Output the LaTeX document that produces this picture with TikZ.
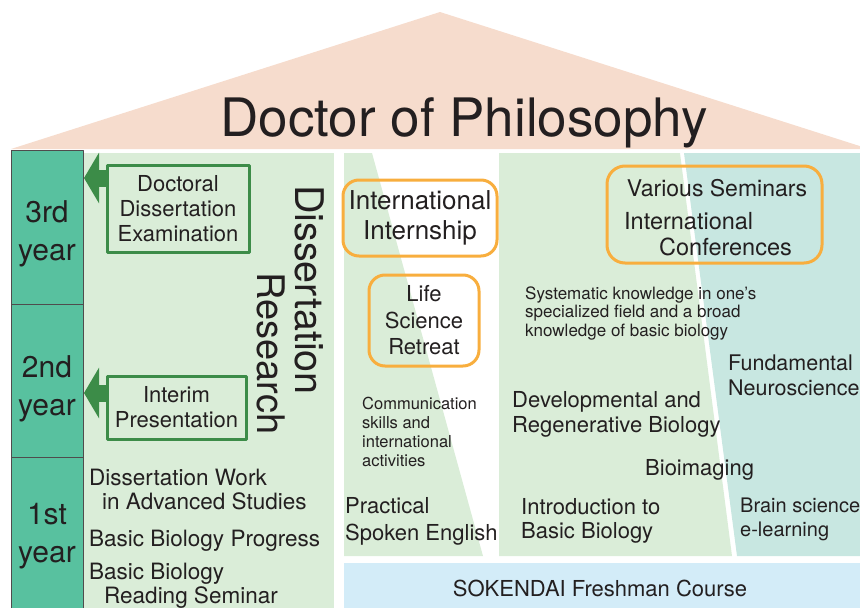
\documentclass[tikz,border=0pt]{standalone}
\usepackage{fontspec}
\setmainfont{TeX Gyre Heros}
\usetikzlibrary{arrows.meta}
\definecolor{roof}{HTML}{F6DCCD}
\definecolor{colteal}{HTML}{58C19F}
\definecolor{lgreen}{HTML}{DAEDD8}
\definecolor{lteal}{HTML}{C8E7E1}
\definecolor{lblue}{HTML}{D3ECF8}
\definecolor{dgreen}{HTML}{3C8C48}
\definecolor{orng}{HTML}{F8AE3E}
\definecolor{ink}{HTML}{231F20}

\begin{document}
\begin{tikzpicture}[x=1pt,y=-1pt,line join=round,
  txt/.style={inner sep=0pt,text=ink,align=left,font=\fontsize{22}{25}\selectfont},
  small/.style={txt,font=\fontsize{17}{18.5}\selectfont},
  yearbox/.style={draw=ink!80,line width=.8pt,fill=colteal,minimum width=72pt,inner sep=0pt},
  yeartxt/.style={txt,align=center,font=\fontsize{30}{38}\selectfont},
  greenbox/.style={txt,align=center,draw=dgreen,line width=3pt},
  orangebox/.style={txt,align=center,draw=orng,line width=3pt,rounded corners=16pt},
  bigarrow/.style={draw=dgreen,line width=17pt,-{Triangle[length=15pt,width=50pt]}}]
\useasboundingbox (0,0) rectangle (860,608);
\clip (0,0) rectangle (860,608);
% roof
\fill[roof] (11,149) -- (440,12) -- (869,149) -- cycle;
\node[txt,font=\fontsize{53}{55}\selectfont,anchor=base] (phd) at (464,136) {Doctor of Philosophy};
% panels
\fill[lgreen] (84,153) rectangle (334,608);
\fill[lgreen] (344,153) -- (372,153) -- (483,556) -- (344,556) -- cycle;
\fill[lgreen] (499,153) -- (680,153) -- (732,556) -- (499,556) -- cycle;
\fill[lteal] (684,153) -- (860,153) -- (860,556) -- (737,556) -- cycle;
\fill[lblue] (344,563) rectangle (860,608);
% years
\node[yearbox,minimum height=154pt] (y3) at (47,227) {};
\node[yearbox,minimum height=153pt] (y2) at (47,380.5) {};
\node[yearbox,minimum height=160pt] (y1) at (47,537) {};
\node[yeartxt] (l3) at (47,234) {3rd\\year};
\node[yeartxt] (l2) at (47,389) {2nd\\year};
\node[yeartxt] (l1) at (47,536) {1st\\year};
% dissertation research
\node[greenbox,minimum width=142pt,minimum height=87pt] (exam) at (178,208.5) {Doctoral\\Dissertation\\Examination};
\node[greenbox,minimum width=139pt,minimum height=63pt] (interim) at (176.5,407.5) {Interim\\Presentation};
\coordinate (t3) at (84,178);
\coordinate (t2) at (84,393);
\draw[bigarrow] (exam.west |- t3) -- (t3);
\draw[bigarrow] (interim.west |- t2) -- (t2);
\node[txt,font=\fontsize{39.5}{40}\selectfont,rotate=-90,anchor=base west] (diss) at (295,185) {Dissertation};
\node[txt,font=\fontsize{38}{40}\selectfont,rotate=-90,anchor=base west] (res) at (257,272) {Research};
\node[txt,font=\fontsize{22.5}{24}\selectfont,anchor=west] (work) at (89,489) {Dissertation Work\\\hspace*{13pt}in Advanced Studies};
\node[txt,font=\fontsize{22.5}{24}\selectfont,anchor=west] (prog) at (89,541) {Basic Biology Progress};
\node[txt,font=\fontsize{22.5}{24}\selectfont,anchor=west] (read) at (89,586) {Basic Biology\\\hspace*{15pt}Reading Seminar};
% communication
\node[orangebox,font=\fontsize{26}{30}\selectfont,minimum width=154pt,minimum height=76pt] (intern) at (420,218) {International\\Internship};
\node[orangebox,font=\fontsize{22}{26.5}\selectfont,minimum width=110pt,minimum height=91pt] (retreat) at (424,320.5) {Life\\Science\\Retreat};
\node[small,font=\fontsize{16.5}{18.7}\selectfont,anchor=west] (comm) at (362,432) {Communication\\skills and\\international\\activities};
\node[txt,font=\fontsize{22}{27}\selectfont,anchor=west] (spoken) at (345,521.5) {Practical\\Spoken English};
% specialized field
\node[orangebox,rounded corners=18pt,minimum width=215pt,minimum height=97pt] (sem) at (714.5,214.5) {};
\node[txt,anchor=center,font=\fontsize{23}{26}\selectfont] (various) at (717,188) {Various Seminars};
\node[txt,anchor=west,font=\fontsize{23.5}{26}\selectfont] (conf) at (624,234) {International\\\hspace*{35pt}Conferences};
\node[small,anchor=west] (syst) at (525,313) {Systematic knowledge in one's\\specialized field and a broad\\knowledge of basic biology};
\node[txt,anchor=west,font=\fontsize{21.5}{25}\selectfont] (neuro) at (728,375.5) {Fundamental\\Neuroscience};
\node[txt,anchor=west] (devel) at (512,414.5) {Developmental and\\Regenerative Biology};
\node[txt,anchor=west] (bioim) at (645,470) {Bioimaging};
\node[txt,anchor=west,font=\fontsize{22}{24}\selectfont] (intro) at (521,521) {Introduction to\\Basic Biology};
\node[txt,anchor=west,font=\fontsize{20}{24}\selectfont] (brain) at (740,519) {Brain science\\e-learning};
\node[txt,anchor=center] (fresh) at (600,588) {SOKENDAI Freshman Course};
\end{tikzpicture}
\end{document}
